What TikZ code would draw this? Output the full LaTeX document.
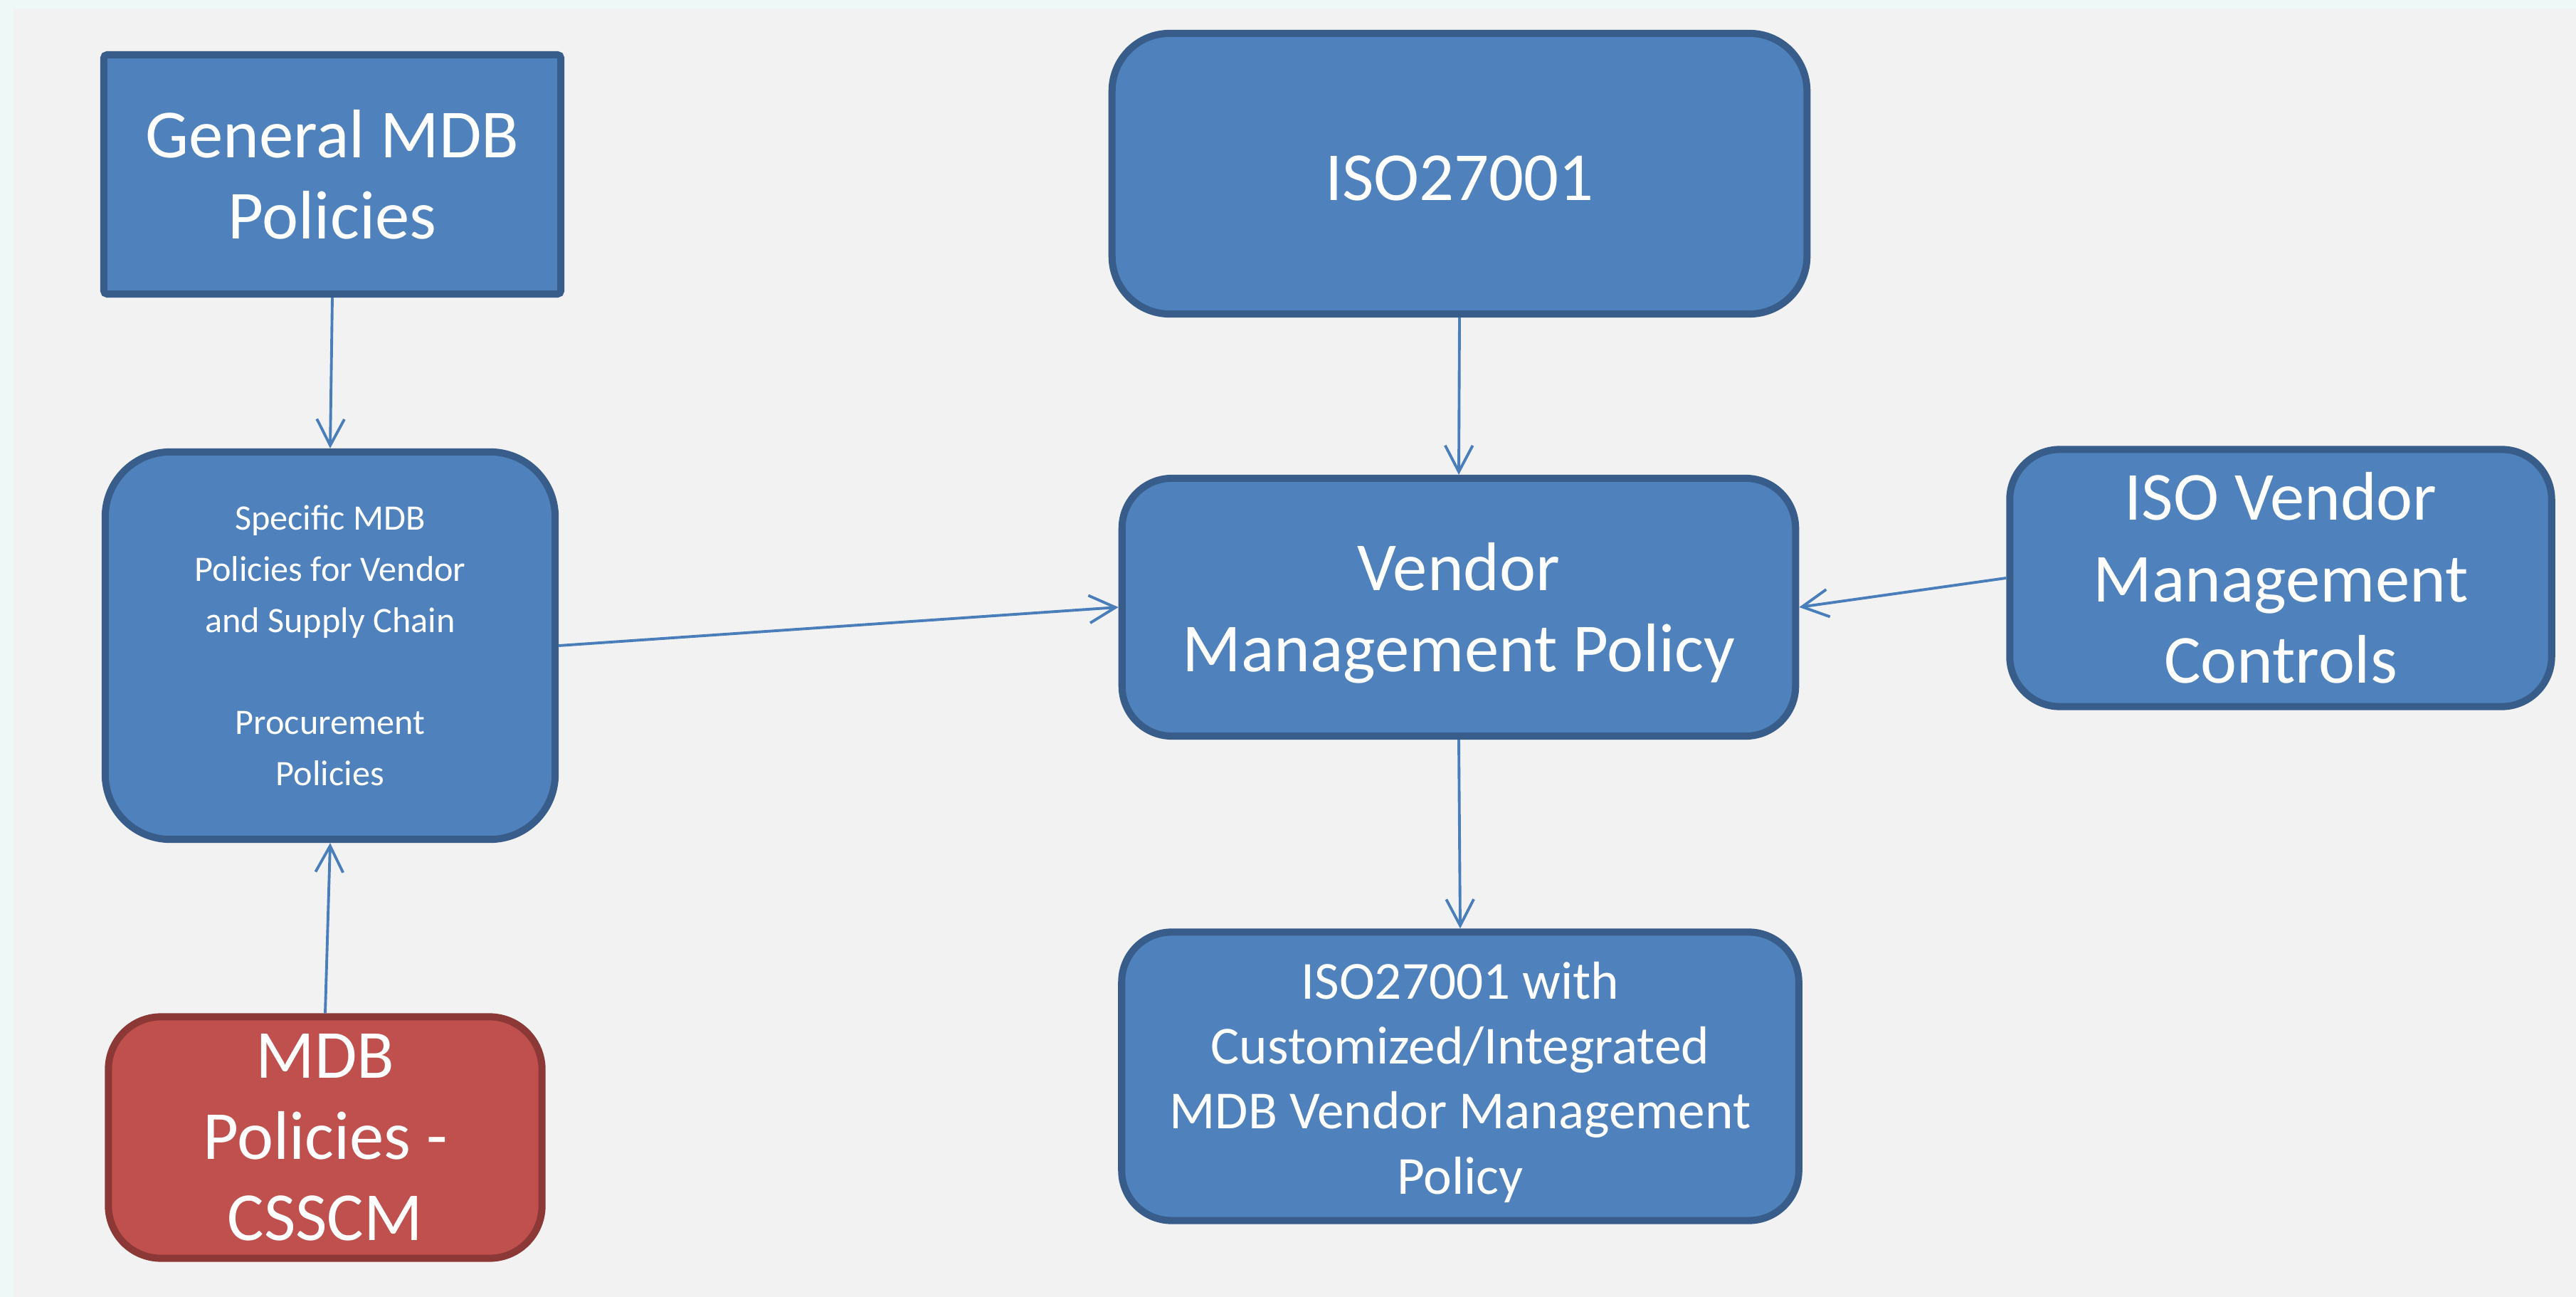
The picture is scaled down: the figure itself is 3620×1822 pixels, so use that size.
\documentclass[tikz,border=0pt]{standalone}
\usepackage{fontspec}
\setmainfont{Carlito}
\usetikzlibrary{arrows.meta}
\definecolor{boxfill}{HTML}{4F81BD}
\definecolor{boxline}{HTML}{385D8A}
\definecolor{redfill}{HTML}{C0504D}
\definecolor{redline}{HTML}{8C3836}
\definecolor{linkcol}{HTML}{4A7EBB}
\definecolor{pagebg}{HTML}{F2F2F2}
\definecolor{rimbg}{HTML}{EEF9F7}
% invisible strut that lowers a centred text block by half of #2
\newcommand\dropstrut[2]{\rule{0pt}{\dimexpr\fontcharht\font`#1+#2\relax}}

\begin{document}
\begin{tikzpicture}[x=0.01cm,y=-0.01cm,
  box/.style={draw=boxline,fill=boxfill,line width=2.85pt,text=white,
    align=center,inner sep=0pt,rounded corners=#1},
  box/.default=20pt,
  redbox/.style={box=#1,draw=redline,fill=redfill},
  bigtext/.style={font=\fontsize{27.5}{32.5}\selectfont},
  midtext/.style={font=\fontsize{21.4}{26}\selectfont},
  smalltext/.style={font=\fontsize{14.3}{20.4}\selectfont},
  link/.style={draw=linkcol,line width=1.1pt,
    -{Straight Barb[length=10.5pt,width=11pt]}}]

  % page background
  \fill[rimbg] (0,0) rectangle (3620,1822);
  \fill[pagebg] (18,12) rectangle (3620,1822);
  \useasboundingbox (0,0) rectangle (3620,1822);

  % boxes
  \node[box=1.4pt,bigtext,minimum width=6.42cm,minimum height=3.36cm]
    (gen) at (467,245) {General MDB\\Policies};
  \node[box=26pt,smalltext,minimum width=6.32cm,minimum height=5.44cm]
    (spec) at (464,907) {Specific MDB\\Policies for Vendor\\and Supply Chain\\[20.4pt]Procurement\\Policies};
  \node[redbox=21pt,bigtext,minimum width=6.09cm,minimum height=3.39cm]
    (cs) at (457,1598) {MDB\\Policies -\\CSSCM};
  \node[box=23pt,bigtext,minimum width=9.76cm,minimum height=3.94cm]
    (iso) at (2051,244) {\dropstrut{O}{4pt}ISO27001};
  \node[box=20pt,bigtext,minimum width=9.46cm,minimum height=3.62cm]
    (vmp) at (2050,853) {\dropstrut{d}{4.6pt}Vendor\\Management Policy};
  \node[box=20pt,bigtext,minimum width=7.61cm,minimum height=3.61cm]
    (isov) at (3205,812) {ISO Vendor\\Management\\Controls};
  \node[box=20pt,midtext,minimum width=9.51cm,minimum height=4.05cm]
    (isow) at (2052,1512) {\dropstrut{h}{4.6pt}ISO27001 with\\Customized/Integrated\\MDB Vendor Management\\Policy};

  % connectors
  \draw[link] (gen.south) -- (spec.north);
  \draw[link] (cs.north) -- (spec.south);
  \draw[link] (spec.east) -- (vmp.west);
  \draw[link] (iso.south) -- (vmp.north);
  \draw[link] (isov.west) -- (vmp.east);
  \draw[link] (vmp.south) -- (isow.north);
\end{tikzpicture}
\end{document}
